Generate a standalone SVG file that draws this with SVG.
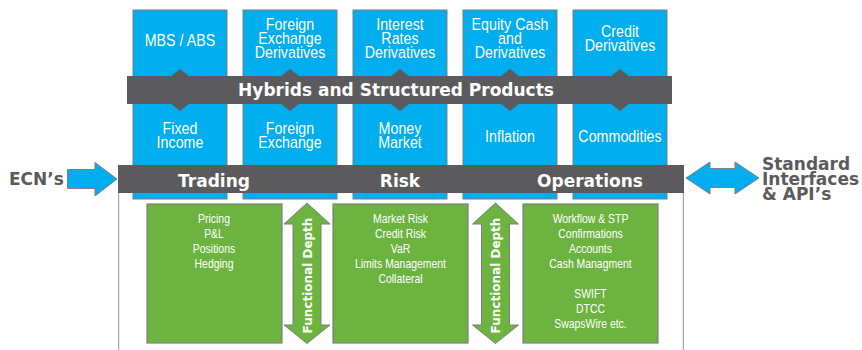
<svg xmlns="http://www.w3.org/2000/svg" width="862" height="350" viewBox="0 0 862 350">
<style>
.col{fill:#00adee;stroke:#7f7f7f;stroke-width:1}
.bar{fill:#5b5b5d}
.gbox{fill:#6cb33f;stroke:#7f7f7f;stroke-width:1.2}
.garrow{fill:#6cb33f;stroke:#7f7f7f;stroke-width:1}
.barrow{fill:#00adee;stroke:#7f7f7f;stroke-width:1}
.bt{font-family:"Liberation Sans",Arial,sans-serif;font-size:17px;fill:#fff;text-anchor:middle}
.gt{font-family:"Liberation Sans",Arial,sans-serif;font-size:12px;fill:#fff;text-anchor:middle}
.hb{font-family:"DejaVu Sans",sans-serif;font-weight:bold;font-size:17px;fill:#fff;text-anchor:middle}
.side{font-family:"DejaVu Sans",sans-serif;font-weight:bold;font-size:17px;fill:#5b5b5d}
.fd{font-family:"DejaVu Sans",sans-serif;font-weight:bold;font-size:12px;fill:#fff;text-anchor:middle}
.vline{stroke:#a6a6a6;stroke-width:1.2;fill:none}
</style>

<g id="col-mbs">
<rect class="col" x="133" y="10" width="94" height="189"/>
<text class="bt" transform="translate(180 45.5) scale(0.84 1)">MBS / ABS</text>
<text class="bt" transform="translate(180 133.5) scale(0.84 1)">Fixed</text>
<text class="bt" transform="translate(180 148) scale(0.84 1)">Income</text>
</g>
<g id="col-fx">
<rect class="col" x="243" y="10" width="94" height="189"/>
<text class="bt" transform="translate(290 30) scale(0.84 1)">Foreign</text>
<text class="bt" transform="translate(290 44) scale(0.84 1)">Exchange</text>
<text class="bt" transform="translate(290 58) scale(0.84 1)">Derivatives</text>
<text class="bt" transform="translate(290 133.5) scale(0.84 1)">Foreign</text>
<text class="bt" transform="translate(290 148) scale(0.84 1)">Exchange</text>
</g>
<g id="col-ir">
<rect class="col" x="353" y="10" width="94" height="189"/>
<text class="bt" transform="translate(400 30) scale(0.84 1)">Interest</text>
<text class="bt" transform="translate(400 44) scale(0.84 1)">Rates</text>
<text class="bt" transform="translate(400 58) scale(0.84 1)">Derivatives</text>
<text class="bt" transform="translate(400 133.5) scale(0.84 1)">Money</text>
<text class="bt" transform="translate(400 148) scale(0.84 1)">Market</text>
</g>
<g id="col-eq">
<rect class="col" x="463" y="10" width="94" height="189"/>
<text class="bt" transform="translate(510 30) scale(0.84 1)">Equity Cash</text>
<text class="bt" transform="translate(510 44) scale(0.84 1)">and</text>
<text class="bt" transform="translate(510 58) scale(0.84 1)">Derivatives</text>
<text class="bt" transform="translate(510 141.5) scale(0.84 1)">Inflation</text>
</g>
<g id="col-credit">
<rect class="col" x="573" y="10" width="94" height="189"/>
<text class="bt" transform="translate(620 36.5) scale(0.84 1)">Credit</text>
<text class="bt" transform="translate(620 50.5) scale(0.84 1)">Derivatives</text>
<text class="bt" transform="translate(620 141.5) scale(0.84 1)">Commodities</text>
</g>

<g id="hybrids">
<rect class="bar" x="127" y="76" width="545" height="28"/>
<path class="bar" d="M170.5 76.5L180 69L189.5 76.5ZM170.5 103.5L180 111L189.5 103.5ZM280.5 76.5L290 69L299.5 76.5ZM280.5 103.5L290 111L299.5 103.5ZM390.5 76.5L400 69L409.5 76.5ZM390.5 103.5L400 111L409.5 103.5ZM500.5 76.5L510 69L519.5 76.5ZM500.5 103.5L510 111L519.5 103.5ZM610.5 76.5L620 69L629.5 76.5ZM610.5 103.5L620 111L629.5 103.5Z"/>
<text class="hb" x="396" y="96">Hybrids and Structured Products</text>
</g>

<g id="platform">
<line class="vline" x1="118.6" y1="193" x2="118.6" y2="350"/>
<line class="vline" x1="683.4" y1="193" x2="683.4" y2="350"/>
<rect class="bar" x="118" y="165" width="566" height="28"/>
<text class="hb" x="214" y="187">Trading</text>
<text class="hb" x="400" y="187">Risk</text>
<text class="hb" x="590" y="187">Operations</text>
</g>

<g id="trading-box">
<rect class="gbox" x="147" y="204" width="135" height="139"/>
<text class="gt" transform="translate(214 223) scale(0.87 1)">Pricing</text>
<text class="gt" transform="translate(214 238) scale(0.87 1)">P&amp;L</text>
<text class="gt" transform="translate(214 253) scale(0.87 1)">Positions</text>
<text class="gt" transform="translate(214 268) scale(0.87 1)">Hedging</text>
</g>
<g id="risk-box">
<rect class="gbox" x="333" y="204" width="135" height="139"/>
<text class="gt" transform="translate(400.5 223) scale(0.87 1)">Market Risk</text>
<text class="gt" transform="translate(400.5 238) scale(0.87 1)">Credit Risk</text>
<text class="gt" transform="translate(400.5 253) scale(0.87 1)">VaR</text>
<text class="gt" transform="translate(400.5 268) scale(0.87 1)">Limits Management</text>
<text class="gt" transform="translate(400.5 283) scale(0.87 1)">Collateral</text>
</g>
<g id="ops-box">
<rect class="gbox" x="523" y="204" width="135" height="139"/>
<text class="gt" transform="translate(590.5 223) scale(0.87 1)">Workflow &amp; STP</text>
<text class="gt" transform="translate(590.5 238) scale(0.87 1)">Confirmations</text>
<text class="gt" transform="translate(590.5 253) scale(0.87 1)">Accounts</text>
<text class="gt" transform="translate(590.5 268) scale(0.87 1)">Cash Managment</text>
<text class="gt" transform="translate(590.5 298) scale(0.87 1)">SWIFT</text>
<text class="gt" transform="translate(590.5 313) scale(0.87 1)">DTCC</text>
<text class="gt" transform="translate(590.5 328) scale(0.87 1)">SwapsWire etc.</text>
</g>

<g id="connectors">
<g id="depth-1">
<polygon class="garrow" points="307,203 330,224 321,224 321,325 330,325 307,343.5 284,325 293,325 293,224 284,224"/>
<text class="fd" transform="translate(312,275.5) rotate(-90)">Functional Depth</text>
</g>
<g id="depth-2">
<polygon class="garrow" points="495.5,203 518.5,224 509.5,224 509.5,325 518.5,325 495.5,343.5 472.5,325 481.5,325 481.5,224 472.5,224"/>
<text class="fd" transform="translate(499.5,275.5) rotate(-90)">Functional Depth</text>
</g>
<g id="ecn-arrow">
<polygon class="barrow" points="67.5,169.5 95,169.5 95,162.5 117,179 95,196 95,188.5 67.5,188.5"/>
</g>
<g id="api-arrow">
<polygon class="barrow" points="686,178 710,162 710,168.5 735,168.5 735,162 759,178 735,194 735,187.5 710,187.5 710,194"/>
</g>
</g>

<g id="ecn">
<text class="side" x="9" y="185">ECN’s</text>
</g>
<g id="std">
<text class="side" x="762" y="170">Standard</text>
<text class="side" x="762" y="185">Interfaces</text>
<text class="side" x="762" y="200">&amp; API’s</text>
</g>
</svg>
